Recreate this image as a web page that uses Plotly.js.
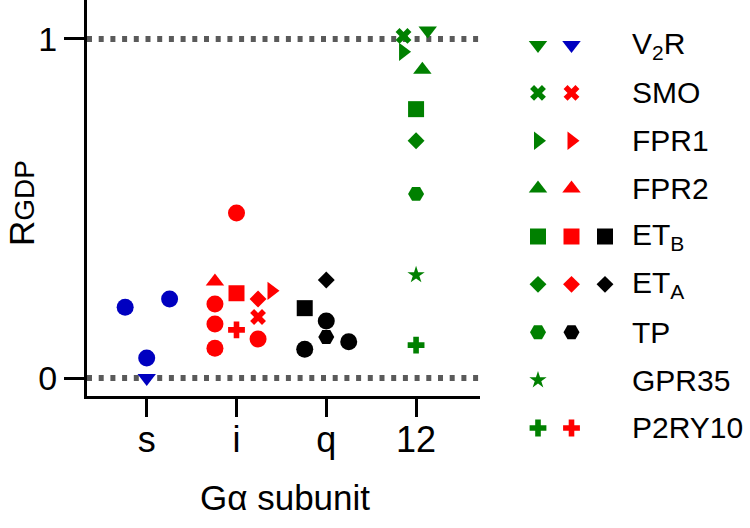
<!DOCTYPE html>
<html>
<head>
<meta charset="utf-8">
<script src="https://cdn.plot.ly/plotly-3.0.1.min.js"></script>
<style>
  html, body { margin: 0; padding: 0; background: #fff; }
  #chart { width: 750px; height: 528px; }
</style>
</head>
<body>
<div id="chart"></div>
<script>
// G alpha subunits on the x axis
var subunits = ['s', 'i', 'q', '12'];
var subunitColors = {'s': '#0000c0', 'i': '#ff0000', 'q': '#000000', '12': '#008000'};

// one entry per point: subunit, receptor, jitter within the column, R_GDP
var pointSubunit  = ['s', 's', 's', 's',
                     'i', 'i', 'i', 'i', 'i', 'i', 'i', 'i', 'i', 'i', 'i',
                     'q', 'q', 'q', 'q', 'q', 'q',
                     '12', '12', '12', '12', '12', '12', '12', '12', '12'];
var pointReceptor = ['other', 'other', 'other', 'V2R',
                     'other', 'other', 'other', 'other', 'other', 'FPR2', 'ETB', 'P2RY10', 'ETA', 'FPR1', 'SMO',
                     'ETB', 'other', 'ETA', 'other', 'TP', 'other',
                     'SMO', 'V2R', 'FPR1', 'FPR2', 'ETB', 'ETA', 'TP', 'GPR35', 'P2RY10'];
var pointJitter   = [-0.24, 0.255, 0, 0,
                     -0.24, -0.24, -0.24, 0, 0.24, -0.24, 0, 0, 0.24, 0.39, 0.24,
                     -0.24, -0.24, 0, 0, 0, 0.25,
                     -0.14, 0.13, -0.145, 0.07, 0, 0, 0, 0, 0];
var pointValue    = [0.209, 0.233, 0.059, 0.0,
                     0.218, 0.159, 0.088, 0.487, 0.115, 0.285, 0.25, 0.142, 0.233, 0.257, 0.18,
                     0.206, 0.085, 0.289, 0.168, 0.121, 0.107,
                     1.009, 1.025, 0.962, 0.909, 0.793, 0.70, 0.543, 0.304, 0.097];

// legend rows
var legendReceptors = ['V2R', 'SMO', 'FPR1', 'FPR2', 'ETB', 'ETA', 'TP', 'GPR35', 'P2RY10'];
var legendLabels = ['V<sub>2</sub>R', 'SMO', 'FPR1', 'FPR2', 'ET<sub>B</sub>', 'ET<sub>A</sub>', 'TP', 'GPR35', 'P2RY10'];
var legendSubunits = [['12', 's'], ['12', 'i'], ['12', 'i'], ['12', 'i'], ['12', 'i', 'q'],
                      ['12', 'i', 'q'], ['12', 'q'], ['12'], ['12', 'i']];

var receptorSymbol = {
  'other': 'circle', 'V2R': 'triangle-down', 'SMO': 'x', 'FPR1': 'triangle-right',
  'FPR2': 'triangle-up', 'ETB': 'square', 'ETA': 'diamond', 'TP': 'hexagon2',
  'GPR35': 'star', 'P2RY10': 'cross'
};
var symbolSize = {
  'circle': 17, 'triangle-down': 16, 'x': 14, 'triangle-right': 16, 'triangle-up': 16,
  'square': 16, 'diamond': 13, 'hexagon2': 16, 'star': 13, 'cross': 14
};

var FONT = 'Liberation Sans, Arial, Helvetica, sans-serif';
var data = [];

subunits.forEach(function(su, k) {
  var xs = [], ys = [], syms = [], sizes = [];
  for (var n = 0; n < pointSubunit.length; n++) {
    if (pointSubunit[n] !== su) continue;
    var sym = receptorSymbol[pointReceptor[n]];
    xs.push(k + pointJitter[n]);
    ys.push(pointValue[n]);
    syms.push(sym);
    sizes.push(symbolSize[sym]);
  }
  data.push({
    x: xs, y: ys, type: 'scatter', mode: 'markers', cliponaxis: false,
    showlegend: false, hoverinfo: 'y',
    marker: {color: subunitColors[su], symbol: syms, size: sizes, opacity: 1, line: {width: 0}}
  });
});

// hand-made legend drawn on its own axes
var lx = [], ly = [], lc = [], ls = [], lz = [];
legendReceptors.forEach(function(rec, r) {
  legendSubunits[r].forEach(function(su, j) {
    var sym = receptorSymbol[rec];
    lx.push(j); ly.push(r);
    lc.push(subunitColors[su]);
    ls.push(sym);
    lz.push(symbolSize[sym]);
  });
});
data.push({
  x: lx, y: ly, xaxis: 'x2', yaxis: 'y2', type: 'scatter', mode: 'markers',
  cliponaxis: false, showlegend: false, hoverinfo: 'skip',
  marker: {color: lc, symbol: ls, size: lz, opacity: 1, line: {width: 0}}
});

var annotations = legendLabels.map(function(lab, r) {
  return {
    xref: 'x2', yref: 'y2', x: 2.74, y: r, text: lab, showarrow: false,
    xanchor: 'left', yanchor: 'middle', font: {family: FONT, size: 30, color: '#000'}
  };
});
annotations.push({
  xref: 'paper', yref: 'paper', x: 0.38, y: 0.057, text: 'G\u03b1 subunit',
  showarrow: false, xanchor: 'center', yanchor: 'middle',
  font: {family: FONT, size: 35, color: '#000'}
});
annotations.push({
  xref: 'paper', yref: 'paper', x: 0.029, y: 0.615, textangle: -90,
  text: 'R<span style="font-size:28px">GDP</span>',
  showarrow: false, xanchor: 'center', yanchor: 'middle',
  font: {family: FONT, size: 35, color: '#000'}
});

var layout = {
  width: 750, height: 528,
  margin: {l: 0, r: 0, t: 0, b: 0},
  paper_bgcolor: '#fff', plot_bgcolor: 'rgba(0,0,0,0)',
  font: {family: FONT, color: '#000'},
  xaxis: {
    domain: [0.116, 0.64], range: [-0.665, 3.712],
    tickvals: [0, 1, 2, 3], ticktext: subunits,
    ticks: 'outside', ticklen: 18, tickwidth: 3, tickcolor: '#000',
    ticklabelstandoff: -8,
    showline: true, linewidth: 3, linecolor: '#000',
    showgrid: false, zeroline: false,
    tickfont: {family: FONT, size: 36, color: '#000'}
  },
  yaxis: {
    domain: [0.25, 1], range: [-0.0531, 1.115],
    tickvals: [0, 1], ticktext: ['0', '1'],
    ticks: 'outside', ticklen: 20, tickwidth: 3, tickcolor: '#000',
    showline: true, linewidth: 3, linecolor: '#000',
    showgrid: false, zeroline: false,
    tickfont: {family: FONT, size: 34, color: '#000'}
  },
  xaxis2: {domain: [0.66, 1], range: [-1.2836, 6.3284], visible: false, fixedrange: true},
  yaxis2: {domain: [0, 1], range: [10.089, -0.94], visible: false, fixedrange: true},
  shapes: [0, 1].map(function(v) {
    return {
      type: 'line', layer: 'below', xref: 'x domain', yref: 'y',
      x0: 0, x1: 1, y0: v, y1: v,
      line: {color: '#5a5a5a', width: 6, dash: '5px,6.7px'}
    };
  }),
  annotations: annotations
};

Plotly.newPlot('chart', data, layout, {displayModeBar: false, staticPlot: true});
</script>
</body>
</html>
